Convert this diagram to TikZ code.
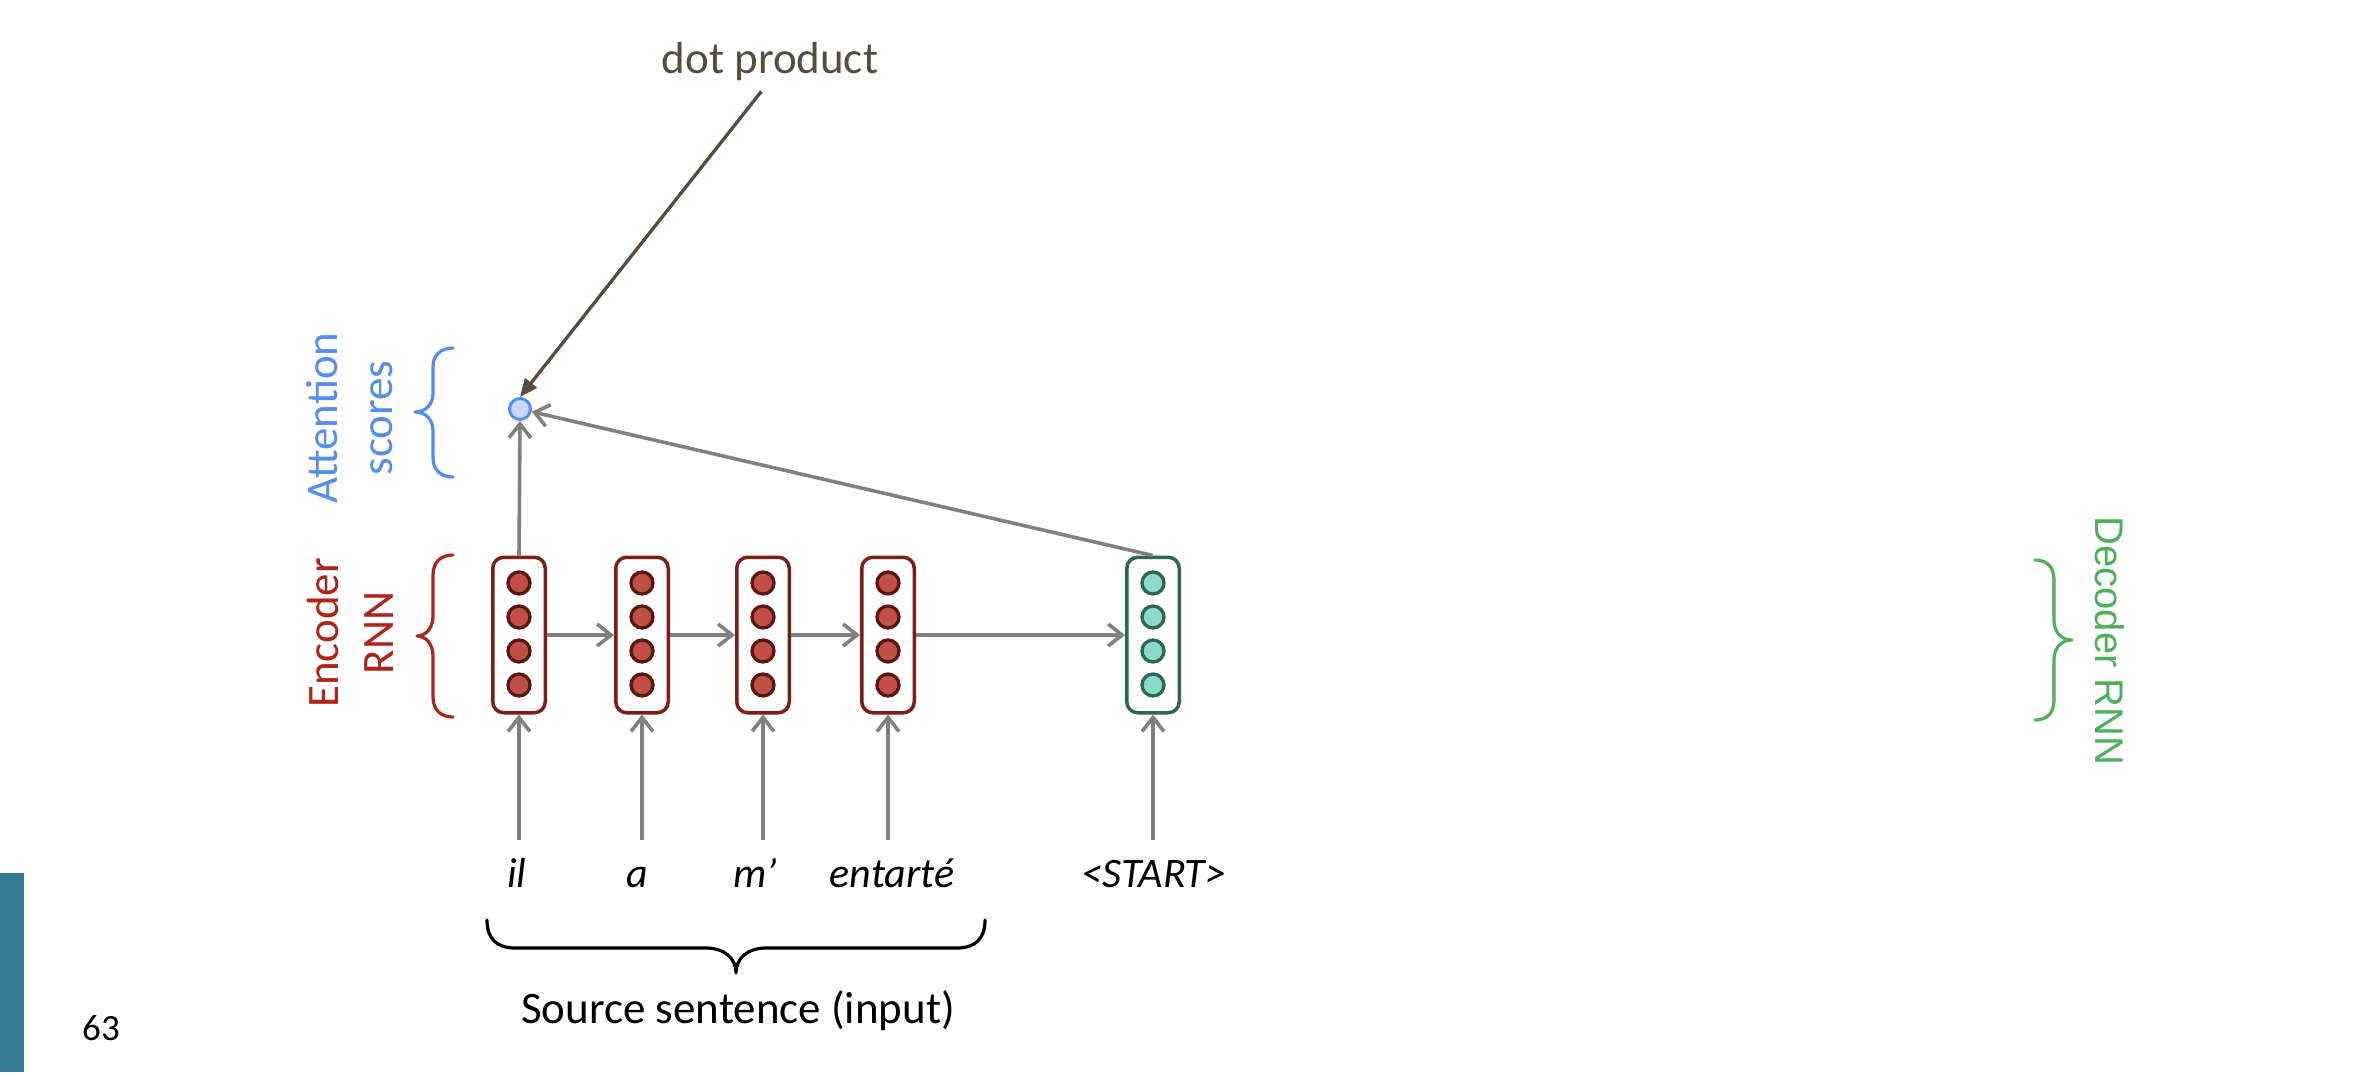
\documentclass[tikz,border=0pt]{standalone}
\usepackage{fontspec}
\setmainfont{Carlito}
\newfontfamily\decfont{Liberation Sans}
\usetikzlibrary{arrows.meta}
\definecolor{arrgray}{RGB}{128,128,128}
\definecolor{encborder}{RGB}{124,30,22}
\definecolor{encfill}{RGB}{192,80,70}
\definecolor{encdotborder}{RGB}{90,22,17}
\definecolor{decborder}{RGB}{45,102,86}
\definecolor{decfill}{RGB}{138,217,201}
\definecolor{attfill}{RGB}{201,218,248}
\definecolor{attblue}{RGB}{84,141,240}
\definecolor{encred}{RGB}{176,36,24}
\definecolor{decgreen}{RGB}{76,175,90}
\definecolor{dpbrown}{RGB}{89,74,62}
\definecolor{tealbar}{RGB}{56,126,147}
\begin{document}
\begin{tikzpicture}[x=1pt,y=-1pt,
  lbl/.style={font=\fontsize{45}{55}\selectfont, inner sep=0pt, align=center},
  encbox/.style={draw=encborder, line width=3.5pt, rounded corners=11pt, minimum width=52.5pt, minimum height=155.5pt, fill=white, inner sep=0pt},
  decbox/.style={encbox, draw=decborder},
  encdot/.style={circle, draw=encdotborder, fill=encfill, line width=3.3pt, minimum size=22pt, inner sep=0pt},
  decdot/.style={circle, draw=decborder, fill=decfill, line width=3.3pt, minimum size=22pt, inner sep=0pt},
  attdot/.style={circle, draw=attblue, fill=attfill, line width=3pt, minimum size=21pt, inner sep=0pt},
  conn/.style={draw=arrgray, line width=3.6pt, -{Straight Barb[length=14pt,width=22pt,line width=3.6pt]}},
  dparrow/.style={draw=dpbrown, line width=3.3pt, -{Triangle[length=18pt,width=15pt]}},
  word/.style={font=\fontsize{42}{50}\selectfont\itshape, text height=30pt, text depth=10pt, inner xsep=0pt, inner ysep=17pt, anchor=base},
  bracepath/.style={line width=3.2pt, line cap=round, line join=round}
]
\useasboundingbox (0,0) rectangle (2362,1072);

% slide bar and page number
\fill[tealbar] (0,873) rectangle (24,1072);
\node[font=\fontsize{37}{44}\selectfont, anchor=base, inner sep=0pt] (pg) at (101,1040) {63};

% encoder / decoder boxes
\node[encbox] (enc1) at (519,635) {};
\node[encbox] (enc2) at (642,635) {};
\node[encbox] (enc3) at (763,635) {};
\node[encbox] (enc4) at (888,635) {};
\node[decbox] (dec) at (1153,635) {};
\foreach \i/\x in {1/519,2/642,3/763,4/888}{
  \foreach \j/\y in {1/583,2/617,3/651,4/685}{
    \node[encdot] (e\i d\j) at (\x,\y) {};
  }
}
\foreach \j/\y in {1/583,2/617,3/651,4/685}{
  \node[decdot] (dd\j) at (1153,\y) {};
}

% attention score
\node[attdot] (att) at (520,409) {};

% labels
\node[lbl, text=attblue, rotate=90] (attlbl) at (350,418) {Attention\\scores};
\node[lbl, text=encred, rotate=90] (enclbl) at (350,633) {Encoder\\RNN};
\node[font=\decfont\fontsize{40}{48}\selectfont, text=decgreen, rotate=-90, inner sep=0pt] (declbl) at (2110,641) {Decoder RNN};
\node[lbl, text=dpbrown, anchor=base] (dp) at (770,73) {dot product};
\node[lbl, anchor=base] (src) at (738,1023) {Source sentence (input)};

% words
\node[word] (w1) at (517,887) {il};
\node[word] (w2) at (637,887) {a};
\node[word] (w3) at (755,887) {m’};
\node[word] (w4) at (892,887) {entarté};
\node[word] (w5) at (1154,887) {<START>};

% connectors
\draw[conn] (enc1.east) -- (enc2.west);
\draw[conn] (enc2.east) -- (enc3.west);
\draw[conn] (enc3.east) -- (enc4.west);
\draw[conn] (enc4.east) -- (dec.west);
\draw[conn] (w1.north -| enc1.south) -- (enc1.south);
\draw[conn] (w2.north -| enc2.south) -- (enc2.south);
\draw[conn] (w3.north -| enc3.south) -- (enc3.south);
\draw[conn] (w4.north -| enc4.south) -- (enc4.south);
\draw[conn] (w5.north -| dec.south) -- (dec.south);
\draw[conn] (enc1.north) -- (att.south);
\draw[conn] (dec.north) -- (att);
\draw[dparrow, shorten <=14pt] (dp.south) -- (att.north);

% braces
\draw[bracepath, draw=attblue] (453,348) .. controls (441,348) and (433,355) .. (433,367) -- (433,393) .. controls (433,405) and (425,412) .. (415,412) .. controls (425,412) and (433,419) .. (433,431) -- (433,458) .. controls (433,470) and (441,477) .. (453,477);
\draw[bracepath, draw=encred] (453,555) .. controls (441,555) and (433,562) .. (433,575) -- (433,616) .. controls (433,629) and (425,636) .. (417,636) .. controls (425,636) and (433,643) .. (433,656) -- (433,697) .. controls (433,710) and (441,717) .. (453,717);
\draw[bracepath, draw=decgreen] (2035,560) .. controls (2047,560) and (2054,567) .. (2054,580) -- (2054,620) .. controls (2054,633) and (2062,640) .. (2072,640) .. controls (2062,640) and (2054,647) .. (2054,660) -- (2054,700) .. controls (2054,713) and (2047,720) .. (2035,720);
\draw[bracepath, draw=black] (487,920) .. controls (487,938) and (496,948) .. (515,948) -- (706,948) .. controls (724,948) and (736,958) .. (736,973) .. controls (736,958) and (748,948) .. (766,948) -- (957,948) .. controls (976,948) and (985,938) .. (985,920);
\end{tikzpicture}
\end{document}
